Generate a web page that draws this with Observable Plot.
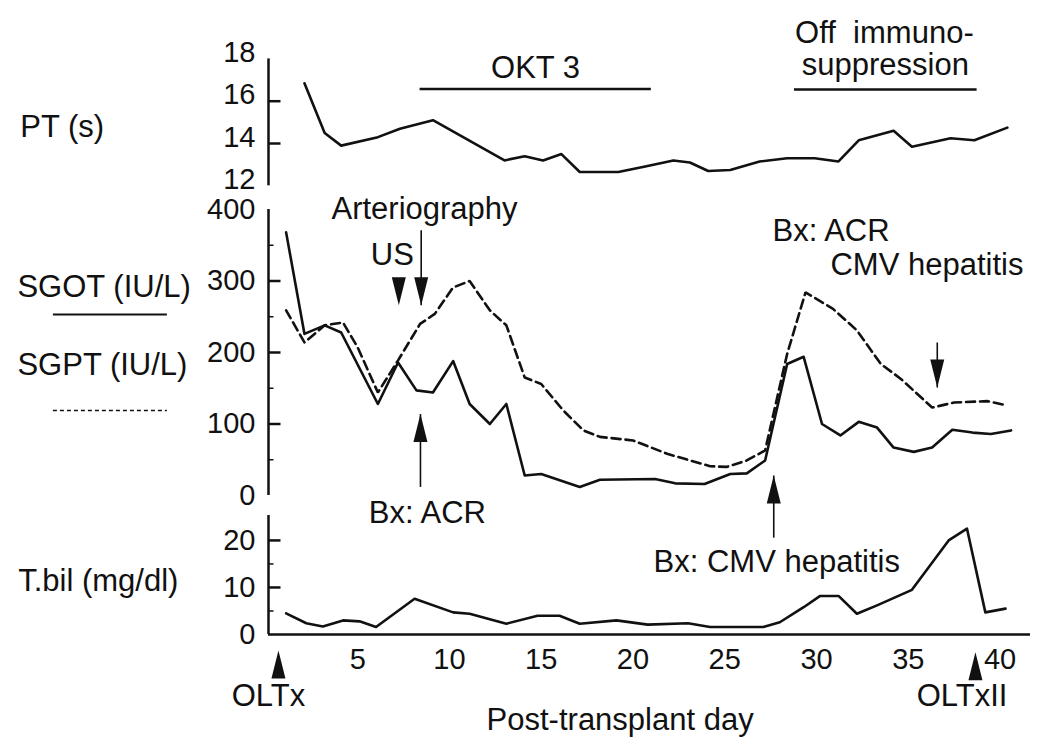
<!DOCTYPE html>
<html><head><meta charset="utf-8">
<script src="https://cdn.jsdelivr.net/npm/d3@7"></script>
<script src="https://cdn.jsdelivr.net/npm/@observablehq/plot@0.6"></script>
<style>
html,body{margin:0;padding:0;background:#fff;overflow:hidden}
#chart{position:relative;width:1050px;height:744px;overflow:hidden}
#chart svg{position:absolute;left:0;top:0}
</style></head><body><div id="chart"></div>
<script>
// ---------- data (post-transplant day, value) ----------
const ptDay   = [2.1, 3.2, 4.1, 6.1, 7.3, 9.1, 13.0, 14.1, 15.1, 16.1, 17.1, 19.2, 20.6, 22.2, 23.1, 24.1, 25.3, 26.9, 28.4, 29.9, 31.2, 32.3, 34.2, 35.2, 37.3, 38.6, 40.4];
const ptValue = [16.85, 14.5, 13.9, 14.3, 14.7, 15.1, 13.2, 13.4, 13.2, 13.5, 12.65, 12.65, 12.9, 13.2, 13.1, 12.7, 12.75, 13.15, 13.3, 13.3, 13.15, 14.15, 14.6, 13.85, 14.25, 14.15, 14.75];

const sgotDay   = [1.1, 2.1, 3.2, 4.1, 6.1, 7.2, 8.2, 9.1, 10.2, 11.1, 12.2, 13.1, 14.1, 15.0, 17.1, 18.2, 21.2, 22.3, 23.9, 25.3, 26.2, 27.2, 28.4, 29.3, 30.3, 31.3, 32.3, 33.3, 34.2, 35.3, 36.3, 37.4, 38.5, 39.5, 40.6];
const sgotValue = [368, 226, 238, 228, 128, 186, 147, 144, 188, 128, 100, 128, 28, 30, 12, 22, 23, 17, 16, 30, 31, 49, 184, 194, 100, 84, 103, 95, 67, 61, 67, 92, 88, 86, 91];

const sgptDay   = [1.1, 2.1, 3.2, 4.2, 5.0, 6.1, 7.2, 8.4, 9.2, 10.2, 11.1, 12.2, 13.1, 14.1, 15.0, 16.2, 17.3, 18.2, 20.0, 21.9, 24.2, 25.1, 26.2, 27.2, 28.4, 29.4, 30.9, 32.2, 33.5, 34.6, 36.3, 37.5, 39.3, 40.4];
const sgptValue = [259, 214, 238, 242, 207, 144, 189, 240, 254, 291, 300, 259, 238, 165, 156, 119, 91, 82, 77, 58, 41, 40, 49, 63, 198, 284, 261, 231, 184, 163, 123, 130, 132, 126];

const tbilDay   = [1.1, 2.2, 3.1, 4.2, 5.1, 6.0, 8.1, 10.2, 11.1, 13.1, 14.8, 16.0, 17.1, 19.1, 20.8, 23.0, 24.2, 27.1, 28.0, 29.3, 30.2, 31.2, 32.2, 33.3, 35.2, 37.2, 38.2, 39.2, 40.3];
const tbilValue = [4.5, 2.4, 1.7, 3.0, 2.8, 1.6, 7.6, 4.7, 4.4, 2.3, 4.0, 4.0, 2.3, 3.0, 2.1, 2.4, 1.6, 1.6, 2.6, 5.8, 8.2, 8.2, 4.4, 6.2, 9.5, 20, 22.5, 4.7, 5.5];

// ---------- axes ----------
const xDomain = [0.14, 41.66];
const xTicks = [5, 10, 15, 20, 25, 30, 35, 40];
const ptDomain = [12, 18];
const ptTicks = [12, 14, 16, 18];
const ptMajor = [14, 16];
const astDomain = [0, 400];
const astTicks = [0, 100, 200, 300, 400];
const astMajor = [100, 200, 300];
const astMinor = [50, 150, 250, 350];
const tbilDomain = [0, 25.3];
const tbilTicks = [0, 10, 20];
const tbilMajor = [10, 20];
const tbilMinor = [5, 15];

// ---------- annotations (day, value) ----------
const ptTexts = [
  {day: 14.69, v: 17.12, text: "OKT 3", anchor: "middle"},
  {day: 33.7, v: 18.73, text: "Off  immuno-", anchor: "middle"},
  {day: 33.75, v: 17.22, text: "suppression", anchor: "middle"},
  {day: -13.38, v: 14.33, text: "PT (s)", anchor: "start"}
];
const ptBars = [
  {from: 8.4, to: 21.0, v: 16.58},
  {from: 28.8, to: 38.75, v: 16.55}
];
const astTexts = [
  {day: 8.64, v: 387, text: "Arteriography", anchor: "middle"},
  {day: 6.89, v: 323, text: "US", anchor: "middle"},
  {day: 8.8, v: -39, text: "Bx: ACR", anchor: "middle"},
  {day: 27.6, v: 356, text: "Bx: ACR", anchor: "start"},
  {day: 30.76, v: 308, text: "CMV hepatitis", anchor: "start"},
  {day: 21.12, v: -107, text: "Bx: CMV hepatitis", anchor: "start"},
  {day: -13.54, v: 278, text: "SGOT (IU/L)", anchor: "start"},
  {day: -13.54, v: 169, text: "SGPT (IU/L)", anchor: "start"}
];
const astArrows = [
  {day: 7.24, tip: 266, tail: null, dir: "down"},
  {day: 8.46, tip: 266, tail: 371, dir: "down"},
  {day: 8.42, tip: 114, tail: 12, dir: "up"},
  {day: 36.58, tip: 151, tail: 214, dir: "down"},
  {day: 27.67, tip: 28, tail: -59, dir: "up"}
];
const legendSolid = {from: -11.58, to: -5.37, v: 253};
const legendDashed = {from: -11.58, to: -5.37, v: 119};
const tbilTexts = [
  {day: 0.14, v: -15.1, text: "OLTx", anchor: "middle"},
  {day: 37.93, v: -15.1, text: "OLTxII", anchor: "middle"},
  {day: 19.3, v: -20.2, text: "Post-transplant day", anchor: "middle"},
  {day: -13.5, v: 9.15, text: "T.bil (mg/dl)", anchor: "start"}
];
const tbilArrows = [
  {day: 0.68, tip: -3.4, tail: null, dir: "up"},
  {day: 38.66, tip: -3.8, tail: null, dir: "up"}
];

// ---------- styling ----------
const W = 1050, H = 744;
const INK = "#111";
const FONT = "'Liberation Sans', Arial, Helvetica, sans-serif";
const FS = 31;
const TICK_FS = 29;
const headUp = {draw(c) { c.moveTo(0, 0); c.lineTo(7, 28); c.lineTo(-7, 28); c.closePath(); }};
const headDown = {draw(c) { c.moveTo(0, 0); c.lineTo(7, -28); c.lineTo(-7, -28); c.closePath(); }};
const tickMark = len => ({draw(c) { c.moveTo(0, 0); c.lineTo(len, 0); }});

const rows = (days, vals) => days.map((d, i) => ({day: d, v: vals[i]}));

function yAxisMarks(domain, labels, major, minor, dy) {
  return [
    Plot.ruleX([xDomain[0]], {y1: domain[0], y2: domain[1], stroke: INK, strokeWidth: 2.5}),
    Plot.axisY({ticks: labels, tickSize: 0, tickPadding: 13, fontSize: TICK_FS, dy, label: null, tickFormat: d => String(d), fill: INK}),
    Plot.dot(major, {x: () => xDomain[0], y: d => d, symbol: tickMark(12), stroke: INK, strokeWidth: 2.5, fill: "none"}),
    Plot.dot(minor, {x: () => xDomain[0], y: d => d, symbol: tickMark(5), stroke: INK, strokeWidth: 1.5, fill: "none"})
  ];
}
function textMarks(list) {
  return ["start", "middle", "end"].map(a =>
    Plot.text(list.filter(d => d.anchor === a), {x: "day", y: "v", text: "text", textAnchor: a, lineAnchor: "bottom", fontSize: FS, fill: INK})
  );
}
function arrowMarks(list) {
  return [
    Plot.link(list.filter(d => d.tail !== null), {x1: "day", x2: "day", y1: "tip", y2: "tail", stroke: INK, strokeWidth: 1.6}),
    Plot.dot(list.filter(d => d.dir === "up"), {x: "day", y: "tip", symbol: headUp, fill: INK, stroke: "none"}),
    Plot.dot(list.filter(d => d.dir === "down"), {x: "day", y: "tip", symbol: headDown, fill: INK, stroke: "none"})
  ];
}
function panel(yDomain, top, bottom, marks, showX) {
  return Plot.plot({
    width: W, height: H,
    marginLeft: 268, marginRight: 20, marginTop: top, marginBottom: H - bottom,
    x: {domain: xDomain, axis: showX ? undefined : null},
    y: {domain: yDomain},
    style: {background: "transparent", overflow: "visible", fontFamily: FONT, fontSize: FS + "px", color: INK},
    marks
  });
}

const lineStyle = {x: "day", y: "v", stroke: INK, strokeWidth: 2.6, strokeLinejoin: "round"};

const ptPlot = panel(ptDomain, 58.4, 185.3, [
  ...yAxisMarks(ptDomain, ptTicks, ptMajor, [], -6),
  Plot.line(rows(ptDay, ptValue), lineStyle),
  Plot.ruleY(ptBars, {y: "v", x1: "from", x2: "to", stroke: INK, strokeWidth: 2.6}),
  ...textMarks(ptTexts)
], false);

const astPlot = panel(astDomain, 209, 495, [
  ...yAxisMarks(astDomain, astTicks, astMajor, astMinor, 0),
  Plot.line(rows(sgptDay, sgptValue), {...lineStyle, strokeDasharray: "9,5", strokeLinejoin: "miter"}),
  Plot.line(rows(sgotDay, sgotValue), lineStyle),
  Plot.ruleY([legendSolid], {y: "v", x1: "from", x2: "to", stroke: INK, strokeWidth: 2}),
  Plot.ruleY([legendDashed], {y: "v", x1: "from", x2: "to", stroke: INK, strokeWidth: 1.5, strokeDasharray: "4,3"}),
  ...arrowMarks(astArrows),
  ...textMarks(astTexts)
], false);

const tbilPlot = panel(tbilDomain, 515, 634, [
  ...yAxisMarks(tbilDomain, tbilTicks, tbilMajor, tbilMinor, 0),
  Plot.ruleY([tbilDomain[0]], {x1: xDomain[0], x2: xDomain[1], stroke: INK, strokeWidth: 2.5}),
  Plot.axisX({ticks: xTicks, tickSize: 0, tickPadding: 14, fontSize: TICK_FS, label: null, tickFormat: d => String(d), fill: INK}),
  Plot.line(rows(tbilDay, tbilValue), lineStyle),
  ...arrowMarks(tbilArrows),
  ...textMarks(tbilTexts)
], true);

const root = document.getElementById("chart");
root.append(ptPlot, astPlot, tbilPlot);
</script>
</body></html>
